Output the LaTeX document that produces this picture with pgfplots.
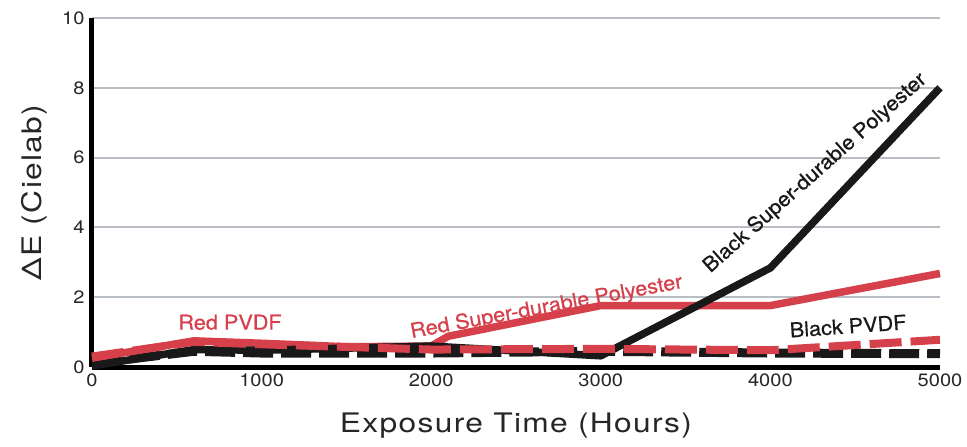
\documentclass[border=0pt]{standalone}
\usepackage{fontspec}
\setmainfont{TeX Gyre Heros}
\newfontfamily\labfont{TeX Gyre Heros}[FakeStretch=1.18, LetterSpace=5]
\newfontfamily\tickfont{TeX Gyre Heros}[FakeStretch=1.12]
\newfontfamily\annfont{TeX Gyre Heros}[FakeStretch=1.06, FakeBold=0.6]
\usepackage{pgfplots}
\pgfplotsset{compat=1.18}
\definecolor{redc}{HTML}{D5404B}
\definecolor{gridc}{HTML}{B9BDC4}
\begin{document}
\begin{tikzpicture}
\path[use as bounding box] (-92bp,-80bp) rectangle (875bp,367bp);
\begin{axis}[
  at={(0,0)}, anchor=origin,
  scale only axis, width=848bp, height=349bp,
  xmin=0, xmax=5000, ymin=0, ymax=10,
  axis x line=bottom, axis y line=left,
  axis line style={line width=5bp, black, -},
  xtick={0,1000,2000,3000,4000,5000},
  ytick={0,2,4,6,8,10},
  major tick length=0pt,
  ymajorgrids, grid style={gridc, line width=2bp},
  /pgf/number format/assume math mode=true,
  /pgf/number format/1000 sep={},
  tick label style={font=\tickfont\fontsize{18}{21}\selectfont, text=black!85},
  xticklabel style={yshift=-3bp},
  yticklabel style={xshift=-4bp},
  xlabel={Exposure Time (Hours)},
  ylabel={ΔE (Cielab)},
  label style={font=\labfont\fontsize{27}{30}\selectfont, text=black!85},
  xlabel style={yshift=-20bp},
  ylabel style={yshift=8bp},
  clip=false,
]
% Black PVDF (dashed)
\addplot[black!90, line width=9bp, dash pattern=on 30bp off 8bp] coordinates {
 (0,0.1) (600,0.45) (1000,0.4) (2000,0.4) (3000,0.45) (4000,0.4) (5000,0.38)};
% Red Super-durable Polyester
\addplot[redc, line width=7.5bp, line join=round] coordinates {
 (0,0.25) (600,0.75) (1000,0.68) (1500,0.58) (2000,0.6) (2100,0.88) (3000,1.76) (4000,1.76) (5000,2.68)};
% Black Super-durable Polyester
\addplot[black!90, line width=7.5bp, line join=round] coordinates {
 (0,0.03) (600,0.5) (1000,0.48) (2000,0.6) (3000,0.32) (4000,2.84) (5000,8.0)};
% Red PVDF (dashed)
\addplot[redc, line width=8bp, dash pattern=on 32bp off 9bp] coordinates {
 (0,0.3) (600,0.72) (1000,0.65) (2000,0.5) (3000,0.52) (4000,0.48) (5000,0.78)};
\node[text=redc, font=\annfont\fontsize{20.5}{23}\selectfont] at (axis cs:814,1.28) {Red PVDF};
\node[text=black!90, font=\annfont\fontsize{20.5}{23}\selectfont, rotate=4] at (axis cs:4458,1.17) {Black PVDF};
\node[text=redc, font=\annfont\fontsize{20.5}{23}\selectfont, rotate=10.5] at (axis cs:2680,1.7) {Red Super-durable Polyester};
\node[text=black!90, font=\annfont\fontsize{20.5}{23}\selectfont, rotate=41.5] at (axis cs:4265,5.55) {Black Super-durable Polyester};
\end{axis}
\end{tikzpicture}
\end{document}
